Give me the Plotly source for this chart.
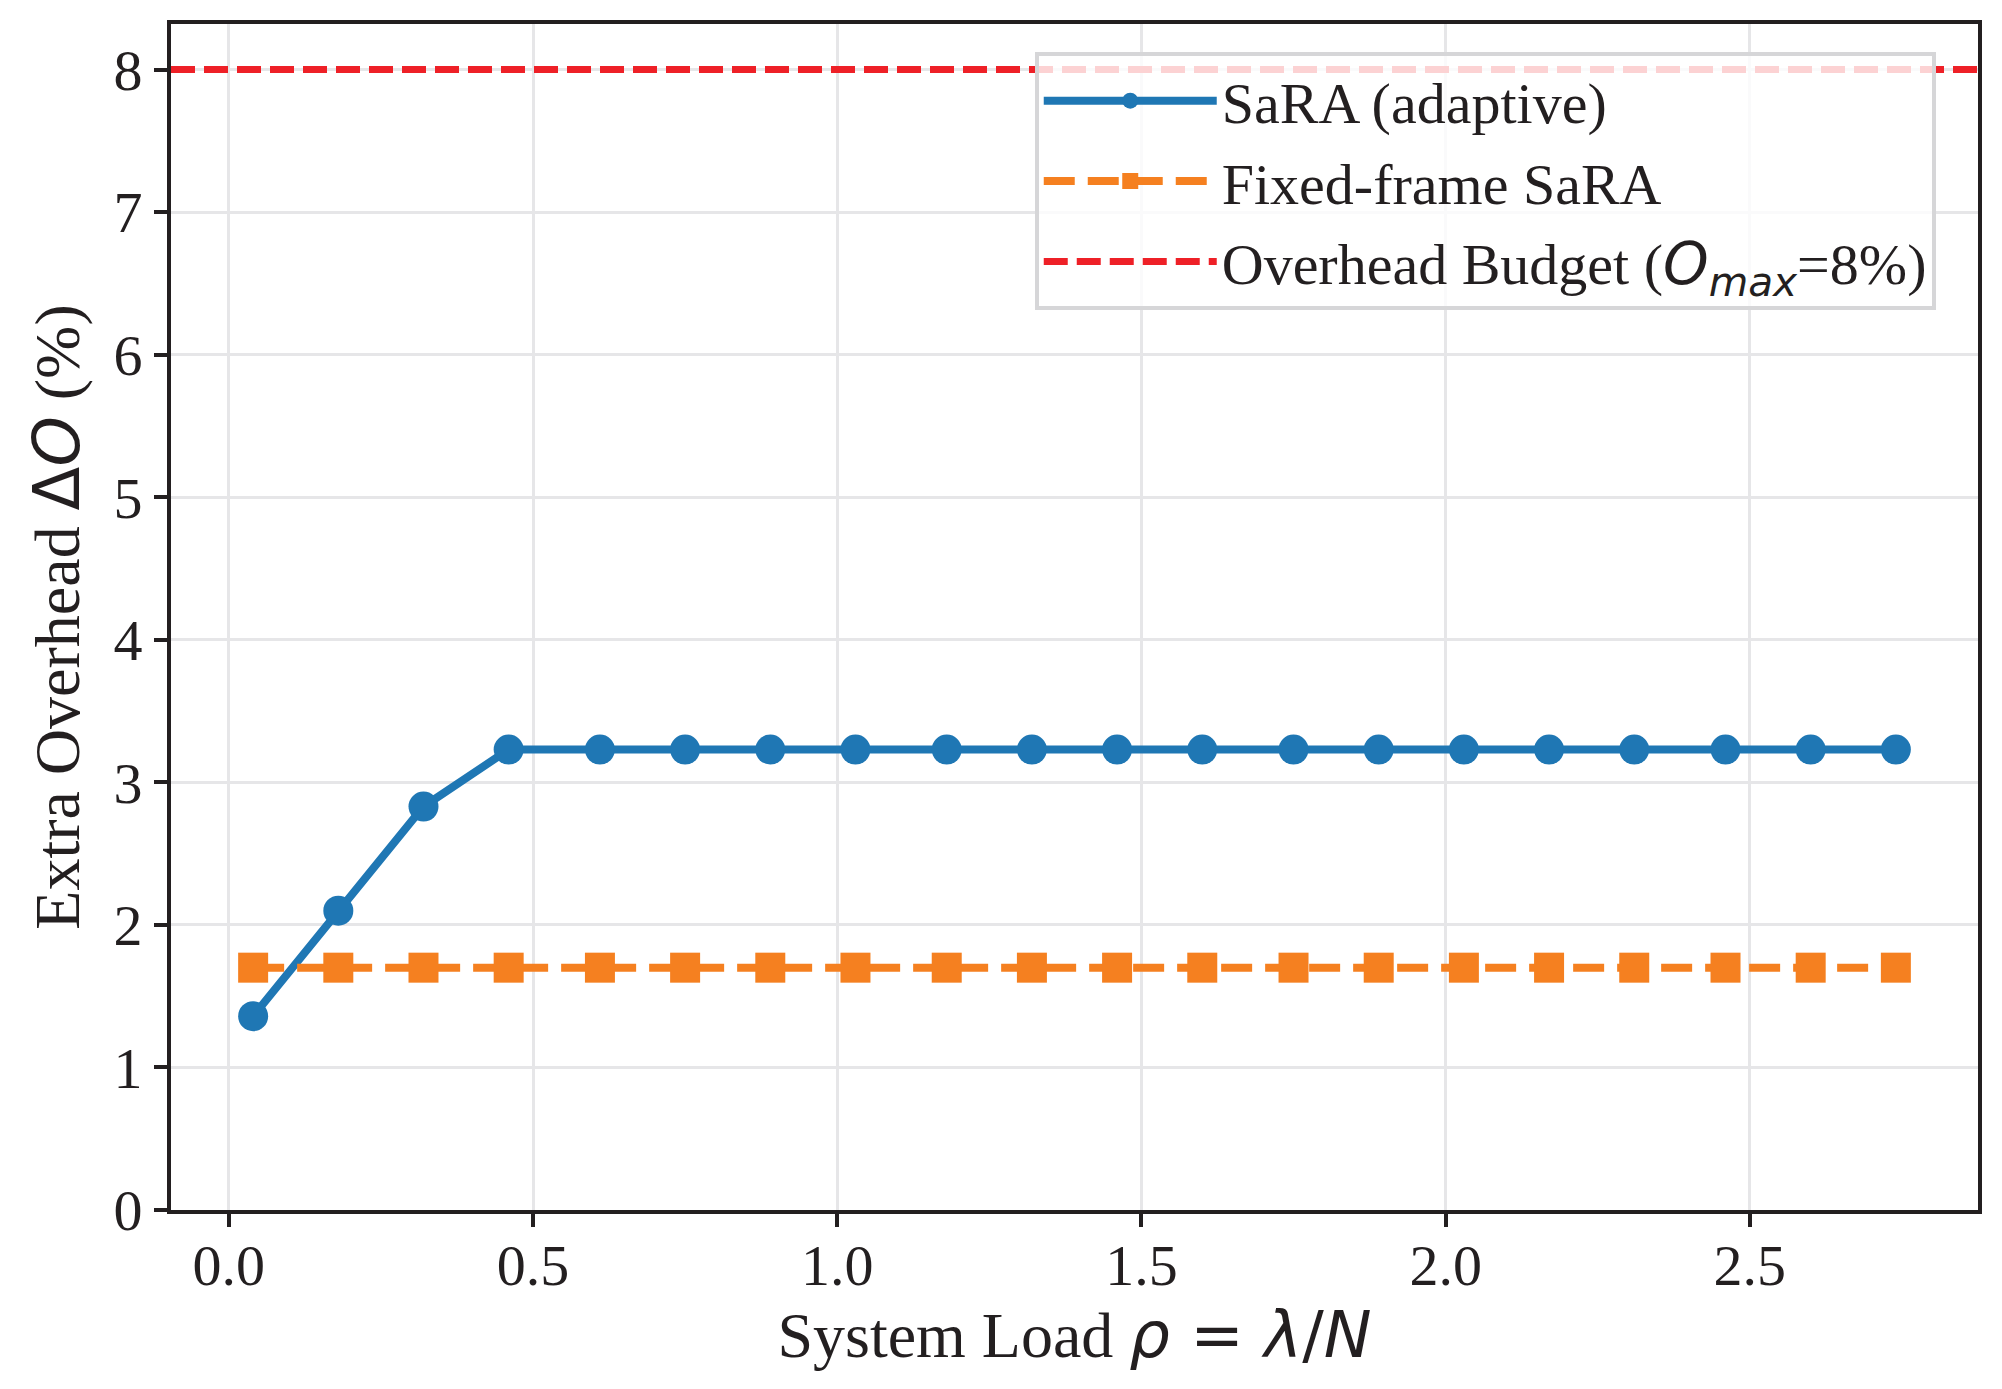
import plotly.graph_objects as go

# system load rho = lambda/N
load = [0.04, 0.18, 0.32, 0.46, 0.61, 0.75, 0.89, 1.03, 1.18, 1.32,
        1.46, 1.60, 1.75, 1.89, 2.03, 2.17, 2.31, 2.46, 2.60, 2.74]
sara_adaptive = [1.36, 2.10, 2.83, 3.23, 3.23, 3.23, 3.23, 3.23, 3.23, 3.23,
                 3.23, 3.23, 3.23, 3.23, 3.23, 3.23, 3.23, 3.23, 3.23, 3.23]
fixed_frame = [1.70, 1.70, 1.70, 1.70, 1.70, 1.70, 1.70, 1.70, 1.70, 1.70,
               1.70, 1.70, 1.70, 1.70, 1.70, 1.70, 1.70, 1.70, 1.70, 1.70]
budget = 8
x_ticks = [0.0, 0.5, 1.0, 1.5, 2.0, 2.5]
y_ticks = [0, 1, 2, 3, 4, 5, 6, 7, 8]

blue = "#1f77b4"
orange = "#f58020"
red = "#ee2027"
serif = "Liberation Serif"
math = "DejaVu Sans"
ink = "#231f20"


def m(s):
    return '<span style="font-family:%s">%s</span>' % (math, s)


fig = go.Figure()
fig.add_trace(go.Scatter(
    x=load, y=sara_adaptive, mode="lines+markers", name="SaRA (adaptive)",
    line=dict(color=blue, width=8),
    marker=dict(symbol="circle", size=30, color=blue),
    legendgroup="a", legendrank=1,
))
fig.add_trace(go.Scatter(
    x=load, y=fixed_frame, mode="lines+markers", name="Fixed-frame SaRA",
    line=dict(color=orange, width=8, dash="31px,13px"),
    marker=dict(symbol="square", size=30, color=orange),
    legendgroup="b", legendrank=2,
))
fig.add_shape(
    type="line", xref="x domain", x0=0, x1=1, yref="y", y0=budget, y1=budget,
    line=dict(color=red, width=7, dash="24px,9px"),
    showlegend=True, legendgroup="c", legendrank=3,
    name="Overhead Budget (" + m("<i>O</i><sub><i>max</i></sub>") + "=8%)",
)

axis_common = dict(
    showline=True, mirror=True, linecolor=ink, linewidth=4,
    ticks="outside", ticklen=13, tickwidth=4, tickcolor=ink,
    showgrid=True, gridcolor="#e6e6e8", gridwidth=3,
    zeroline=False,
    tickfont=dict(family=serif, size=58, color=ink),
)

fig.update_xaxes(
    range=[-0.095, 2.875], tickvals=x_ticks, ticktext=["%.1f" % t for t in x_ticks],
    ticklabelstandoff=-12,
    title=dict(text="System Load " + m("<i>ρ</i> = <i>λ</i>/<i>N</i>"),
               font=dict(family=serif, size=64, color=ink), standoff=14),
    **axis_common,
)
fig.update_yaxes(
    range=[0, 8.32], tickvals=y_ticks,
    title=dict(text="Extra Overhead " + m("Δ<i>O</i>") + " (%)",
               font=dict(family=serif, size=64, color=ink), standoff=14),
    **axis_common,
)

# page body has an 8px margin, so the figure is sized to fit inside it
fig.update_layout(
    width=1986, height=1373,
    margin=dict(l=163, r=15, t=14, b=171),
    plot_bgcolor="white", paper_bgcolor="white",
    showlegend=True,
    legend=dict(
        x=0.478, y=0.976, xanchor="left", yanchor="top",
        bgcolor="rgba(255,255,255,0.8)", bordercolor="#d6d6d8", borderwidth=4,
        font=dict(family=serif, size=58, color=ink),
        itemwidth=173, tracegroupgap=2, traceorder="grouped",
    ),
)

fig.write_html("out.html")
